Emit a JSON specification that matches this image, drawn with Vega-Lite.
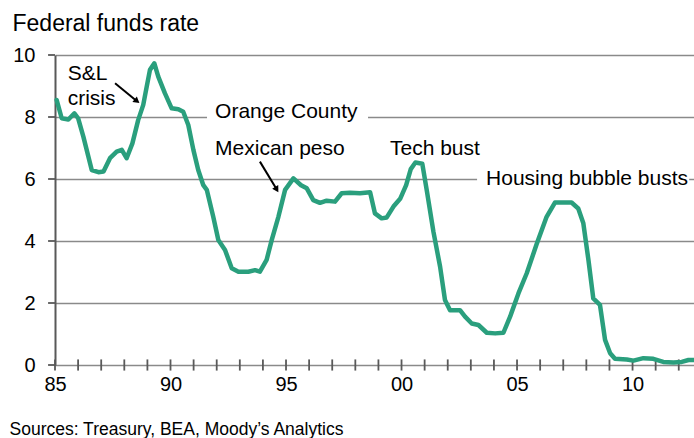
{
  "$schema": "https://vega.github.io/schema/vega-lite/v6.json",
  "width": 639,
  "height": 310,
  "autosize": "none",
  "padding": {"left": 55, "top": 55, "right": 0, "bottom": 73},
  "background": "white",
  "config": {"view": {"stroke": null}, "font": "Liberation Sans", "axis": {"labelOverlap": false}},
  "datasets": {
    "rate": [
      {"year": 1985.07, "rate": 8.55}, {"year": 1985.29, "rate": 7.96}, {"year": 1985.58, "rate": 7.92}, {"year": 1985.84, "rate": 8.12},
      {"year": 1986.0, "rate": 7.96}, {"year": 1986.23, "rate": 7.36}, {"year": 1986.59, "rate": 6.29}, {"year": 1986.88, "rate": 6.22},
      {"year": 1987.1, "rate": 6.24}, {"year": 1987.38, "rate": 6.67}, {"year": 1987.67, "rate": 6.88}, {"year": 1987.89, "rate": 6.94},
      {"year": 1988.1, "rate": 6.67}, {"year": 1988.35, "rate": 7.15}, {"year": 1988.6, "rate": 7.9}, {"year": 1988.82, "rate": 8.39},
      {"year": 1988.97, "rate": 8.98}, {"year": 1989.11, "rate": 9.52}, {"year": 1989.3, "rate": 9.73}, {"year": 1989.47, "rate": 9.3},
      {"year": 1989.76, "rate": 8.76}, {"year": 1990.05, "rate": 8.28}, {"year": 1990.34, "rate": 8.25}, {"year": 1990.55, "rate": 8.17},
      {"year": 1990.77, "rate": 7.74}, {"year": 1990.99, "rate": 6.94}, {"year": 1991.2, "rate": 6.29}, {"year": 1991.42, "rate": 5.8},
      {"year": 1991.57, "rate": 5.65}, {"year": 1991.85, "rate": 4.78}, {"year": 1992.07, "rate": 4.03}, {"year": 1992.36, "rate": 3.71},
      {"year": 1992.65, "rate": 3.12}, {"year": 1992.94, "rate": 3.01}, {"year": 1993.37, "rate": 3.01}, {"year": 1993.66, "rate": 3.06},
      {"year": 1993.87, "rate": 3.01}, {"year": 1994.16, "rate": 3.39}, {"year": 1994.38, "rate": 4.03}, {"year": 1994.67, "rate": 4.78},
      {"year": 1994.96, "rate": 5.65}, {"year": 1995.32, "rate": 6.02}, {"year": 1995.65, "rate": 5.8}, {"year": 1995.9, "rate": 5.7},
      {"year": 1996.18, "rate": 5.32}, {"year": 1996.47, "rate": 5.23}, {"year": 1996.76, "rate": 5.3}, {"year": 1997.12, "rate": 5.27},
      {"year": 1997.41, "rate": 5.54}, {"year": 1997.77, "rate": 5.56}, {"year": 1998.2, "rate": 5.54}, {"year": 1998.64, "rate": 5.57},
      {"year": 1998.85, "rate": 4.89}, {"year": 1999.14, "rate": 4.73}, {"year": 1999.36, "rate": 4.76}, {"year": 1999.65, "rate": 5.11},
      {"year": 1999.94, "rate": 5.36}, {"year": 2000.2, "rate": 5.8}, {"year": 2000.4, "rate": 6.32}, {"year": 2000.6, "rate": 6.53},
      {"year": 2000.9, "rate": 6.49}, {"year": 2001.1, "rate": 5.6}, {"year": 2001.38, "rate": 4.3}, {"year": 2001.67, "rate": 3.17},
      {"year": 2001.88, "rate": 2.1}, {"year": 2002.1, "rate": 1.77}, {"year": 2002.53, "rate": 1.77}, {"year": 2002.75, "rate": 1.56},
      {"year": 2003.04, "rate": 1.34}, {"year": 2003.33, "rate": 1.29}, {"year": 2003.69, "rate": 1.04}, {"year": 2004.05, "rate": 1.02},
      {"year": 2004.41, "rate": 1.04}, {"year": 2004.7, "rate": 1.56}, {"year": 2005.06, "rate": 2.31}, {"year": 2005.42, "rate": 2.96},
      {"year": 2005.85, "rate": 3.9}, {"year": 2006.28, "rate": 4.78}, {"year": 2006.64, "rate": 5.24}, {"year": 2007.36, "rate": 5.24},
      {"year": 2007.65, "rate": 5.05}, {"year": 2007.87, "rate": 4.57}, {"year": 2008.09, "rate": 3.39}, {"year": 2008.3, "rate": 2.15},
      {"year": 2008.59, "rate": 1.94}, {"year": 2008.81, "rate": 0.81}, {"year": 2009.03, "rate": 0.38}, {"year": 2009.24, "rate": 0.2},
      {"year": 2009.75, "rate": 0.18}, {"year": 2010.04, "rate": 0.14}, {"year": 2010.47, "rate": 0.22}, {"year": 2010.9, "rate": 0.2},
      {"year": 2011.33, "rate": 0.1}, {"year": 2011.77, "rate": 0.08}, {"year": 2012.13, "rate": 0.1}, {"year": 2012.42, "rate": 0.16},
      {"year": 2012.66, "rate": 0.16}
    ],
    "years": [
      {"year": 1985}, {"year": 1986}, {"year": 1987}, {"year": 1988}, {"year": 1989}, {"year": 1990}, {"year": 1991},
      {"year": 1992}, {"year": 1993}, {"year": 1994}, {"year": 1995}, {"year": 1996}, {"year": 1997}, {"year": 1998},
      {"year": 1999}, {"year": 2000}, {"year": 2001}, {"year": 2002}, {"year": 2003}, {"year": 2004}, {"year": 2005},
      {"year": 2006}, {"year": 2007}, {"year": 2008}, {"year": 2009}, {"year": 2010}, {"year": 2011}, {"year": 2012}
    ],
    "yticks": [{"v": 0}, {"v": 2}, {"v": 4}, {"v": 6}, {"v": 8}, {"v": 10}],
    "labels": [
      {"text": "S&L", "x": 1985.55, "y": 9.19},
      {"text": "crisis", "x": 1985.55, "y": 8.39},
      {"text": "Orange County", "x": 1991.93, "y": 7.96},
      {"text": "Mexican peso", "x": 1991.93, "y": 6.77},
      {"text": "Tech bust", "x": 1999.5, "y": 6.77},
      {"text": "Housing bubble busts", "x": 2003.66, "y": 5.81}
    ],
    "boxes": [
      {"x1": 1991.58, "x2": 1998.55, "y1": 7.7, "y2": 8.3},
      {"x1": 2003.27, "x2": 2012.45, "y1": 5.7, "y2": 6.3}
    ],
    "arrows": [
      {"name": "sl", "x1": 1987.6, "y1": 9.09, "x2": 1988.55, "y2": 8.51},
      {"name": "peso", "x1": 1993.87, "y1": 6.56, "x2": 1994.6, "y2": 5.66}
    ]
  },
  "layer": [
    {
      "data": {"name": "boxes"},
      "mark": {"type": "rect", "fill": "white"},
      "encoding": {
        "x": {
          "field": "x1", "type": "quantitative",
          "scale": {"domain": [1985, 2012.66], "nice": false, "zero": false},
          "axis": {
            "values": [1985, 1990, 1995, 2000, 2005, 2010],
            "labelExpr": "slice(toString(datum.value), 2)",
            "domain": false, "grid": false, "ticks": false,
            "labelFontSize": 20, "labelColor": "black", "labelPadding": 9,
            "labelOverlap": false, "labelFlush": false, "labelBound": false,
            "title": "Sources: Treasury, BEA, Moody’s Analytics",
            "titleFontSize": 17.5, "titleFontWeight": "normal", "titleColor": "black",
            "titleAnchor": "start", "titleAlign": "left", "titleBaseline": "alphabetic",
            "titleX": -46, "titleY": 69
          }
        },
        "x2": {"field": "x2"},
        "y": {
          "field": "y1", "type": "quantitative",
          "scale": {"domain": [0, 10], "nice": false, "zero": false},
          "axis": {
            "values": [0, 2, 4, 6, 8, 10],
            "grid": true, "gridColor": "#8a8a8a", "gridWidth": 1.5,
            "domain": true, "domainColor": "#595959", "domainWidth": 2,
            "ticks": false,
            "labelFontSize": 20, "labelColor": "black", "labelPadding": 20,
            "title": "Federal funds rate",
            "titleFontSize": 23, "titleFontWeight": "normal", "titleColor": "black",
            "titleAngle": 0, "titleAlign": "left", "titleBaseline": "alphabetic",
            "titleX": -43, "titleY": -25
          }
        },
        "y2": {"field": "y2"}
      }
    },
    {
      "mark": {"type": "rule", "color": "#595959", "strokeWidth": 2.5},
      "encoding": {"y": {"datum": 0, "type": "quantitative", "scale": {"domain": [0, 10], "nice": false, "zero": false}}}
    },
    {
      "mark": {"type": "rule", "color": "#6a6a6a", "strokeWidth": 2},
      "encoding": {"y": {"datum": 10, "type": "quantitative", "scale": {"domain": [0, 10], "nice": false, "zero": false}}}
    },
    {
      "data": {"name": "years"},
      "mark": {"type": "rule", "color": "#595959", "strokeWidth": 1.8},
      "encoding": {
        "x": {"field": "year", "type": "quantitative", "scale": {"domain": [1985, 2012.66], "nice": false, "zero": false}},
        "y": {"datum": 0.18, "type": "quantitative", "scale": {"domain": [0, 10], "nice": false, "zero": false}},
        "y2": {"datum": -0.18}
      }
    },
    {
      "data": {"name": "yticks"},
      "mark": {"type": "rule", "color": "#595959", "strokeWidth": 1.8},
      "encoding": {
        "y": {"field": "v", "type": "quantitative", "scale": {"domain": [0, 10], "nice": false, "zero": false}},
        "x": {"datum": 1984.7, "type": "quantitative", "scale": {"domain": [1985, 2012.66], "nice": false, "zero": false}},
        "x2": {"datum": 1985}
      }
    },
    {
      "data": {"name": "rate"},
      "mark": {"type": "line", "color": "#2a9f7d", "strokeWidth": 4.5, "strokeJoin": "round", "strokeCap": "round"},
      "encoding": {
        "x": {"field": "year", "type": "quantitative", "scale": {"domain": [1985, 2012.66], "nice": false, "zero": false}},
        "y": {"field": "rate", "type": "quantitative", "scale": {"domain": [0, 10], "nice": false, "zero": false}}
      }
    },
    {
      "data": {"name": "labels"},
      "mark": {"type": "text", "align": "left", "baseline": "alphabetic", "fontSize": 21, "color": "black", "font": "Liberation Sans"},
      "encoding": {
        "x": {"field": "x", "type": "quantitative", "scale": {"domain": [1985, 2012.66], "nice": false, "zero": false}},
        "y": {"field": "y", "type": "quantitative", "scale": {"domain": [0, 10], "nice": false, "zero": false}},
        "text": {"field": "text"}
      }
    },
    {
      "data": {"name": "arrows"},
      "mark": {"type": "rule", "color": "black", "strokeWidth": 2},
      "encoding": {
        "x": {"field": "x1", "type": "quantitative", "scale": {"domain": [1985, 2012.66], "nice": false, "zero": false}},
        "y": {"field": "y1", "type": "quantitative", "scale": {"domain": [0, 10], "nice": false, "zero": false}},
        "x2": {"field": "x2"},
        "y2": {"field": "y2"}
      }
    },
    {
      "data": {"name": "arrows"},
      "transform": [{"filter": "datum.name === 'sl'"}],
      "mark": {"type": "point", "shape": "triangle-right", "filled": true, "color": "black", "size": 50, "angle": 39, "opacity": 1},
      "encoding": {
        "x": {"field": "x2", "type": "quantitative", "scale": {"domain": [1985, 2012.66], "nice": false, "zero": false}},
        "y": {"field": "y2", "type": "quantitative", "scale": {"domain": [0, 10], "nice": false, "zero": false}}
      }
    },
    {
      "data": {"name": "arrows"},
      "transform": [{"filter": "datum.name === 'peso'"}],
      "mark": {"type": "point", "shape": "triangle-right", "filled": true, "color": "black", "size": 50, "angle": 59, "opacity": 1},
      "encoding": {
        "x": {"field": "x2", "type": "quantitative", "scale": {"domain": [1985, 2012.66], "nice": false, "zero": false}},
        "y": {"field": "y2", "type": "quantitative", "scale": {"domain": [0, 10], "nice": false, "zero": false}}
      }
    }
  ]
}
